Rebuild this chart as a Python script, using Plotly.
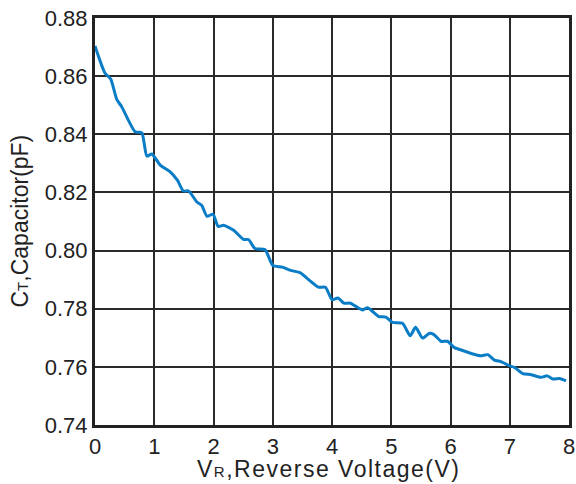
import plotly.graph_objects as go

voltage = [0.0, 0.17, 0.265, 0.367, 0.45, 0.677, 0.79, 0.875, 0.96, 1.10, 1.27, 1.39, 1.49, 1.58,
           1.72, 1.80, 1.89, 1.99, 2.08, 2.17, 2.34, 2.51, 2.59, 2.70, 2.87, 3.00, 3.16, 3.30,
           3.46, 3.63, 3.77, 3.89, 4.00, 4.10, 4.20, 4.31, 4.51, 4.60, 4.79, 4.91, 5.02, 5.19,
           5.32, 5.41, 5.53, 5.64, 5.72, 5.84, 5.95, 6.06, 6.18, 6.35, 6.51, 6.63, 6.74, 6.85,
           6.99, 7.08, 7.22, 7.36, 7.53, 7.63, 7.73, 7.84, 7.95]
capacitance = [0.8704, 0.861, 0.859, 0.852, 0.8495, 0.8409, 0.8405, 0.8325, 0.8332, 0.8294, 0.8271,
               0.8242, 0.8205, 0.8205, 0.8167, 0.8156, 0.8118, 0.8125, 0.8083, 0.8087, 0.8070,
               0.8038, 0.8038, 0.8007, 0.8003, 0.7949, 0.7943, 0.7932, 0.7924, 0.7896, 0.7874,
               0.7874, 0.7831, 0.7837, 0.7819, 0.7819, 0.7796, 0.7803, 0.7773, 0.7771, 0.7753,
               0.7750, 0.7707, 0.7736, 0.7699, 0.7715, 0.7711, 0.7688, 0.7688, 0.7667, 0.7658,
               0.7646, 0.7638, 0.7642, 0.7623, 0.7618, 0.7604, 0.7598, 0.7577, 0.7573, 0.7564,
               0.7569, 0.7558, 0.7560, 0.7552]

x_ticks = [0, 1, 2, 3, 4, 5, 6, 7, 8]
y_ticks = [0.74, 0.76, 0.78, 0.80, 0.82, 0.84, 0.86, 0.88]
y_tick_labels = ["0.74", "0.76", "0.78", "0.80", "0.82", "0.84", "0.86", "0.88"]
x_title = ("<span style='letter-spacing:1.5px'>V<span style='font-size:15px'>R</span>"
           ",Reverse Voltage(V)</span>")
y_title = "C<span style='font-size:15px'>T</span>,Capacitor(pF)"

fig = go.Figure()
fig.add_trace(go.Scatter(
    x=voltage, y=capacitance, mode="lines",
    line=dict(color="#0a7dc6", width=3, shape="spline", smoothing=0.6),
    showlegend=False, hoverinfo="skip"))

tick_font = dict(family="Liberation Sans, Arial, sans-serif", size=22, color="#222222")
title_font = dict(family="Liberation Sans, Arial, sans-serif", size=23, color="#222222")

fig.update_layout(
    width=576, height=484,
    margin=dict(l=95, r=7, t=18, b=59),
    paper_bgcolor="white", plot_bgcolor="white",
    font=tick_font,
    xaxis=dict(
        range=[0, 8], tickvals=x_ticks, ticktext=[str(t) for t in x_ticks],
        showgrid=True, gridcolor="#2a2a2a", gridwidth=2,
        showline=True, linecolor="#222222", linewidth=3, mirror=True,
        zeroline=False, ticks="", ticklen=0, automargin=False,
        ticklabeloverflow="allow", tickfont=tick_font),
    yaxis=dict(
        range=[0.74, 0.88], tickvals=y_ticks, ticktext=y_tick_labels,
        showgrid=True, gridcolor="#2a2a2a", gridwidth=2,
        showline=True, linecolor="#222222", linewidth=3, mirror=True,
        zeroline=False, ticks="", ticklen=0, automargin=False,
        ticklabeloverflow="allow", tickfont=tick_font),
    annotations=[
        dict(text=x_title, xref="paper", yref="paper", x=0.5, y=0, yshift=-44, xshift=-3,
             xanchor="center", yanchor="middle", showarrow=False, font=title_font),
        dict(text=y_title, xref="paper", yref="paper", x=0, y=0.5, xshift=-76,
             xanchor="center", yanchor="middle", textangle=-90, showarrow=False, font=title_font),
    ],
)

# remove the default page margin so the 576x484 figure fills the window exactly
fig.write_html("out.html",
               config={"displayModeBar": False},
               post_script="document.body.style.margin='0';document.body.style.overflow='hidden';")
